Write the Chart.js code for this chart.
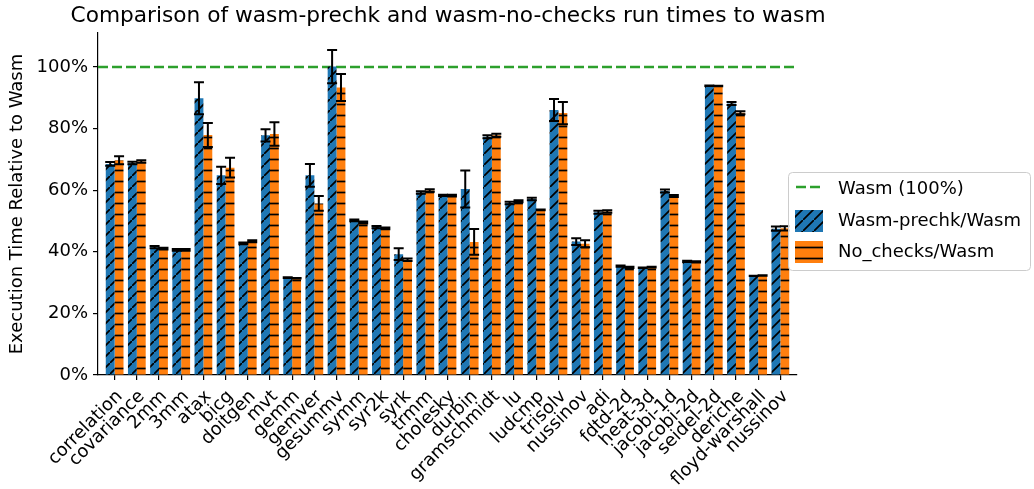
<!DOCTYPE html>
<html>
<head>
<meta charset="utf-8">
<script src="https://cdn.jsdelivr.net/npm/chart.js@4"></script>
<style>
  html, body { margin: 0; padding: 0; background: #fff; }
  canvas { display: block; }
</style>
</head>
<body>
<canvas id="chart" width="1034" height="489"></canvas>
<script>
// benchmark names (nussinov appears twice in the original)
const benchmarks = ["correlation","covariance","2mm","3mm","atax","bicg","doitgen","mvt","gemm","gemver",
  "gesummv","symm","syr2k","syrk","trmm","cholesky","durbin","gramschmidt","lu","ludcmp",
  "trisolv","nussinov","adi","fdtd-2d","heat-3d","jacobi-1d","jacobi-2d","seidel-2d","deriche","floyd-warshall","nussinov"];

// percent of wasm run time
const prechk = [68.5, 68.8, 41.5, 40.6, 89.8, 64.8, 42.7, 77.8, 31.6, 64.8,
  100.1, 50.2, 48.0, 39.2, 59.2, 58.3, 60.4, 77.3, 55.8, 57.1,
  86.0, 43.3, 52.8, 35.3, 34.8, 59.7, 36.9, 93.9, 88.1, 32.2, 47.5];
const prechkErr = [0.6, 0.4, 0.4, 0.3, 5.2, 2.8, 0.3, 2.0, 0.1, 3.7,
  5.4, 0.3, 0.4, 1.9, 0.4, 0.2, 6.0, 0.5, 0.4, 0.4,
  3.6, 1.1, 0.5, 0.2, 0.1, 0.5, 0.2, 0.1, 0.5, 0.05, 0.7];
const noChecks = [69.7, 69.3, 41.0, 40.6, 77.9, 67.3, 43.4, 78.2, 31.4, 55.7,
  93.3, 49.5, 47.6, 37.4, 59.9, 58.2, 43.2, 77.8, 56.4, 53.6,
  85.0, 42.6, 53.1, 34.9, 35.0, 58.1, 36.7, 93.8, 85.1, 32.3, 47.6];
const noChecksErr = [1.3, 0.4, 0.3, 0.3, 3.9, 3.2, 0.3, 3.8, 0.1, 2.4,
  4.4, 0.3, 0.3, 0.4, 0.4, 0.3, 4.2, 0.5, 0.3, 0.1,
  3.6, 1.1, 0.4, 0.2, 0.1, 0.3, 0.2, 0.1, 0.5, 0.05, 0.7];
const baseline = 100;
const yTicks = [0, 20, 40, 60, 80, 100];

const BLUE = "#1f77b4", ORANGE = "#ff7f0e", GREEN = "#2ca02c";
const FONT = "DejaVu Sans";
const FS = 18;

function makeHatch(color, kind) {
  const s = 11;
  const c = document.createElement("canvas");
  c.width = s; c.height = s;
  const g = c.getContext("2d");
  g.fillStyle = color;
  g.fillRect(0, 0, s, s);
  g.strokeStyle = "#000";
  g.lineWidth = 1.7;
  g.beginPath();
  if (kind === "/") {
    g.moveTo(-1, s + 1); g.lineTo(s + 1, -1);
    g.moveTo(-2, 1); g.lineTo(1, -2);
    g.moveTo(s - 1, s + 2); g.lineTo(s + 2, s - 1);
  } else {
    g.moveTo(0, s / 2); g.lineTo(s, s / 2);
  }
  g.stroke();
  return g.createPattern(c, "repeat");
}
const blueHatch = makeHatch(BLUE, "/");
const orangeHatch = makeHatch(ORANGE, "-");

const errorBars = {
  id: "errorBars",
  afterDatasetsDraw(chart) {
    const ctx = chart.ctx;
    const y = chart.scales.y;
    ctx.save();
    ctx.strokeStyle = "#000";
    ctx.lineWidth = 2;
    chart.data.datasets.forEach((ds, di) => {
      if (!ds.errors) return;
      chart.getDatasetMeta(di).data.forEach((bar, i) => {
        const v = ds.data[i].y, e = ds.errors[i];
        const top = y.getPixelForValue(v + e), bot = y.getPixelForValue(v - e);
        ctx.beginPath();
        ctx.moveTo(bar.x, top); ctx.lineTo(bar.x, bot);
        ctx.moveTo(bar.x - 5, top); ctx.lineTo(bar.x + 5, top);
        ctx.moveTo(bar.x - 5, bot); ctx.lineTo(bar.x + 5, bot);
        ctx.stroke();
      });
    });
    ctx.restore();
  }
};

const titleAndLegend = {
  id: "titleAndLegend",
  afterDraw(chart) {
    const ctx = chart.ctx;
    ctx.save();
    ctx.fillStyle = "#000";
    ctx.font = "21.7px '" + FONT + "'";
    ctx.textAlign = "center";
    ctx.textBaseline = "alphabetic";
    ctx.fillText("Comparison of wasm-prechk and wasm-no-checks run times to wasm", 448, 22);

    // legend box
    ctx.fillStyle = "rgba(255,255,255,0.8)";
    ctx.strokeStyle = "#cccccc";
    ctx.lineWidth = 1;
    ctx.beginPath();
    ctx.roundRect(788.5, 172.5, 242, 98, 4);
    ctx.fill(); ctx.stroke();

    const ds = chart.data.datasets;
    const rows = [189, 221, 252];
    ctx.font = FS + "px '" + FONT + "'";
    ctx.textAlign = "left";
    ctx.textBaseline = "middle";
    ds.forEach((d, i) => {
      const cy = rows[i];
      if (d.type === "line") {
        ctx.strokeStyle = d.borderColor;
        ctx.lineWidth = d.borderWidth;
        ctx.setLineDash(d.borderDash);
        ctx.beginPath();
        ctx.moveTo(796, cy - 2); ctx.lineTo(822, cy - 2);
        ctx.stroke();
        ctx.setLineDash([]);
      } else {
        ctx.fillStyle = d.backgroundColor;
        ctx.fillRect(795, cy - 11, 28, 22);
      }
      ctx.fillStyle = "#000";
      ctx.fillText(d.label, 838, cy);
    });
    ctx.restore();
  }
};

const toPoints = vals => vals.map((v, i) => ({ x: i, y: v }));

new Chart(document.getElementById("chart"), {
  type: "bar",
  data: {
    datasets: [
      {
        type: "line",
        label: "Wasm (100%)",
        data: [{ x: -0.75, y: baseline }, { x: benchmarks.length - 0.25, y: baseline }],
        borderColor: GREEN,
        borderWidth: 2.5,
        borderDash: [10, 4],
        pointRadius: 0,
        order: 2
      },
      {
        label: "Wasm-prechk/Wasm",
        data: toPoints(prechk),
        errors: prechkErr,
        backgroundColor: blueHatch,
        borderWidth: 0,
        order: 1
      },
      {
        label: "No_checks/Wasm",
        data: toPoints(noChecks),
        errors: noChecksErr,
        backgroundColor: orangeHatch,
        borderWidth: 0,
        order: 1
      }
    ]
  },
  options: {
    responsive: false,
    animation: false,
    categoryPercentage: 0.8,
    barPercentage: 1.0,
    layout: { padding: { top: 33, right: 237, left: 0, bottom: 0 } },
    font: { family: FONT },
    plugins: {
      legend: { display: false },
      tooltip: { enabled: false }
    },
    scales: {
      x: {
        type: "linear",
        offset: false,
        min: -0.75,
        max: benchmarks.length - 0.25,
        afterBuildTicks: s => { s.ticks = benchmarks.map((_, i) => ({ value: i })); },
        afterFit: s => { s.height = 489 - 375; },
        grid: { offset: false, drawOnChartArea: false, drawTicks: true, tickLength: 5, color: "#000", lineWidth: 1.2 },
        border: { display: true, color: "#000", width: 1.2 },
        ticks: {
          autoSkip: false,
          maxRotation: 45,
          minRotation: 45,
          padding: 6,
          labelOffset: 5,
          color: "#000",
          font: { family: FONT, size: FS },
          callback: v => benchmarks[v]
        }
      },
      y: {
        min: 0,
        max: 111,
        afterBuildTicks: s => { s.ticks = yTicks.map(v => ({ value: v })); },
        afterFit: s => { s.width = 98; },
        grid: { drawOnChartArea: false, drawTicks: true, tickLength: 5, color: "#000", lineWidth: 1.2 },
        border: { display: true, color: "#000", width: 1.2 },
        title: {
          display: true,
          text: "Execution Time Relative to Wasm",
          color: "#000",
          font: { family: FONT, size: FS },
          padding: { top: 7, bottom: 0 }
        },
        ticks: {
          padding: 5,
          color: "#000",
          font: { family: FONT, size: FS },
          callback: v => v + "%"
        }
      }
    }
  },
  plugins: [errorBars, titleAndLegend]
});
</script>
</body>
</html>
